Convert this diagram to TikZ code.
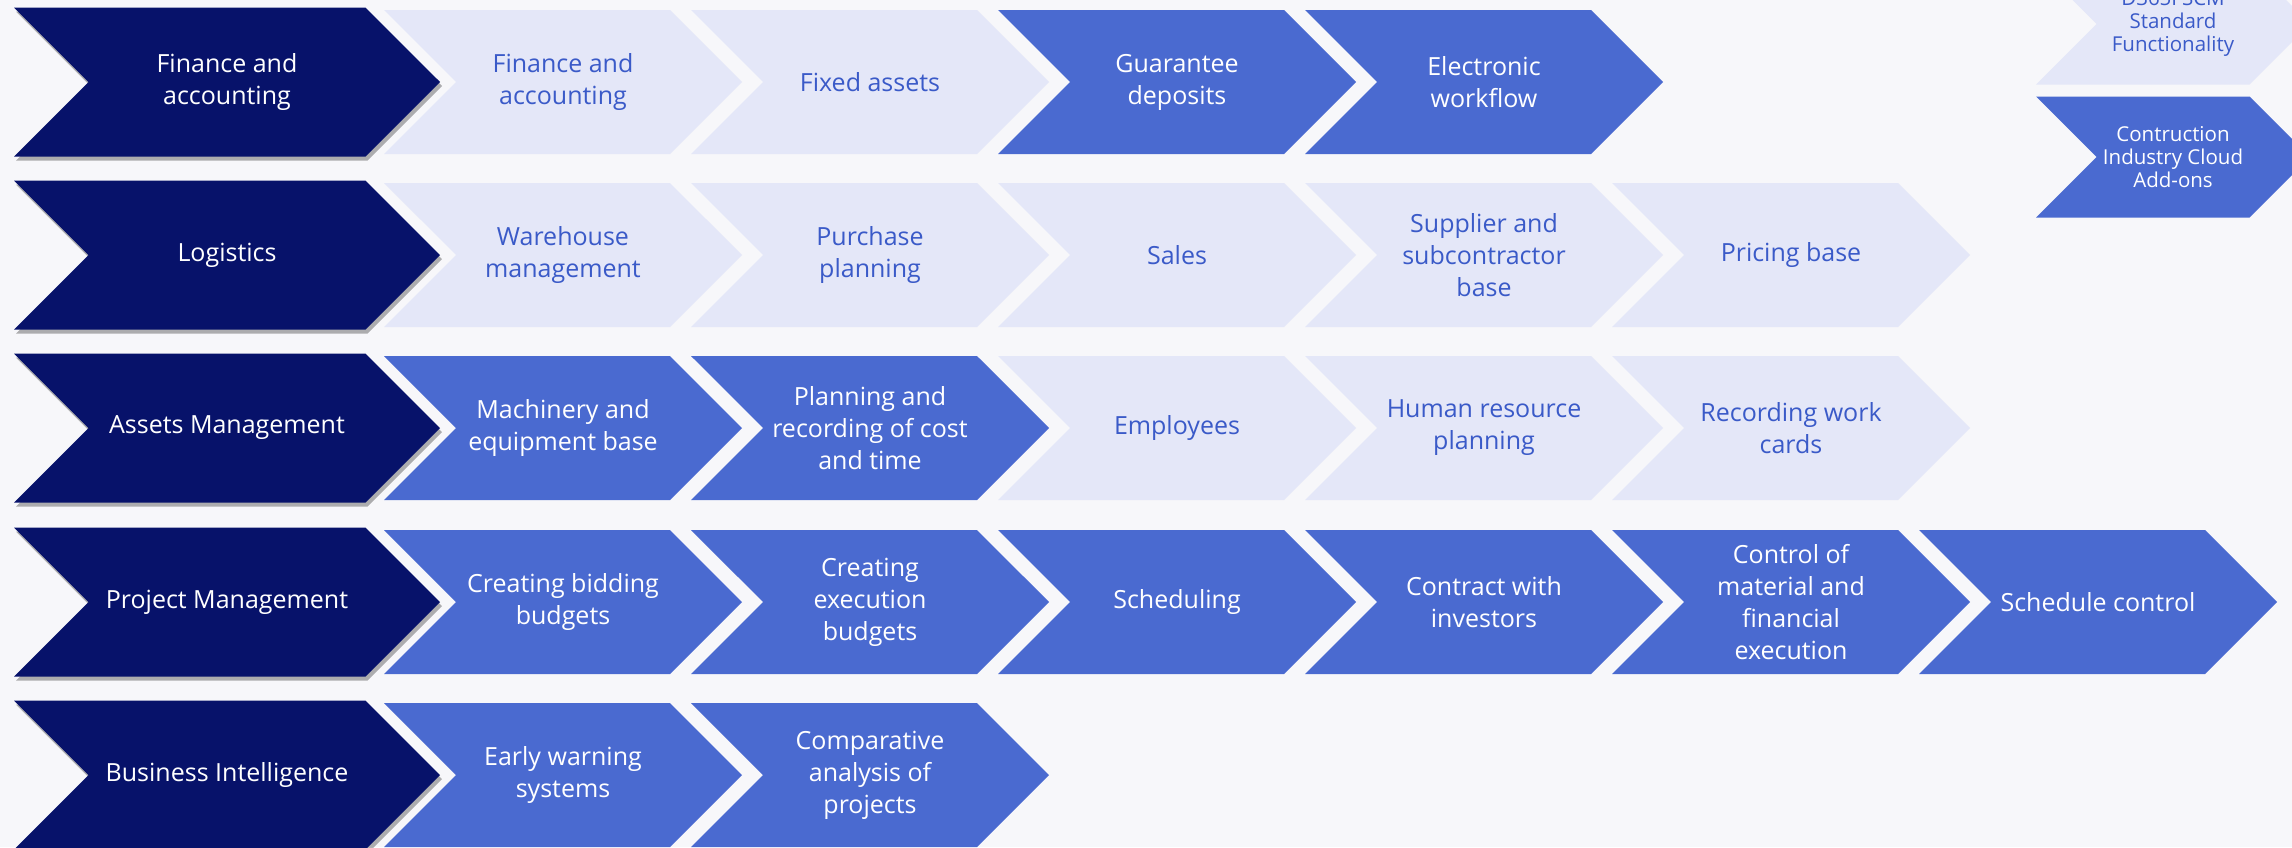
\documentclass[tikz,border=0pt]{standalone}
\usepackage{fontspec}
\setmainfont{Open Sans}
\usetikzlibrary{shapes.symbols,shadows}

\definecolor{navyHead}{HTML}{07126A}
\definecolor{midBlue}{HTML}{4A6AD0}
\definecolor{paleBlue}{HTML}{E4E7F8}
\definecolor{textBlue}{HTML}{3A5AC8}
\definecolor{pageGrey}{HTML}{F7F7FA}

\begin{document}
\begin{tikzpicture}[x=1pt, y=-1pt]
        \tikzstyle{chevron} = [signal, signal from=west, signal to=east,
                signal pointer angle=90, inner sep=2pt, align=center,
                font=\fontsize{25}{32}\selectfont]
        \tikzstyle{headStep} = [chevron, fill=navyHead, text=white,
                minimum width=426, minimum height=149,
                drop shadow={shadow xshift=2pt, shadow yshift=-4pt,
                        opacity=0.3, fill=black}]
        \tikzstyle{paleStep} = [chevron, fill=paleBlue, text=textBlue,
                minimum width=358, minimum height=144]
        \tikzstyle{blueStep} = [chevron, fill=midBlue, text=white,
                minimum width=358, minimum height=144]
        \tikzstyle{keyStep} = [chevron, minimum width=274, minimum height=121,
                font=\fontsize{20.5}{23}\selectfont]
        \useasboundingbox (0,0) rectangle (2292,847);
        \fill[pageGrey] (0,0) rectangle (2292,847);
        \clip (0,0) rectangle (2292,847);
        % legend
        \node[keyStep, fill=paleBlue, text=textBlue] (std) at (2173,24)
                {D365FSCM\\Standard\\Functionality};
        \node[keyStep, fill=midBlue, text=white] (addon) at (2173,157)
                {Contruction\\Industry Cloud\\Add-ons};
        % row 1
        \node[headStep] (fa) at (227,82) {Finance and\\accounting};
        \node[paleStep] (fa1) at (563,82) {Finance and\\accounting};
        \node[paleStep] (fa2) at (870,82) {Fixed assets};
        \node[blueStep] (fa3) at (1177,82) {Guarantee\\deposits};
        \node[blueStep] (fa4) at (1484,82) {Electronic\\workflow};
        % row 2
        \node[headStep] (lg) at (227,255) {Logistics};
        \node[paleStep] (lg1) at (563,255) {Warehouse\\management};
        \node[paleStep] (lg2) at (870,255) {Purchase\\planning};
        \node[paleStep] (lg3) at (1177,255) {Sales};
        \node[paleStep] (lg4) at (1484,255) {Supplier and\\subcontractor\\base};
        \node[paleStep] (lg5) at (1791,255) {Pricing base};
        % row 3
        \node[headStep] (am) at (227,428) {Assets Management};
        \node[blueStep] (am1) at (563,428) {Machinery and\\equipment base};
        \node[blueStep] (am2) at (870,428) {Planning and\\recording of cost\\and time};
        \node[paleStep] (am3) at (1177,428) {Employees};
        \node[paleStep] (am4) at (1484,428) {Human resource\\planning};
        \node[paleStep] (am5) at (1791,428) {Recording work\\cards};
        % row 4
        \node[headStep] (pm) at (227,602) {Project Management};
        \node[blueStep] (pm1) at (563,602) {Creating bidding\\budgets};
        \node[blueStep] (pm2) at (870,602) {Creating\\execution\\budgets};
        \node[blueStep] (pm3) at (1177,602) {Scheduling};
        \node[blueStep] (pm4) at (1484,602) {Contract with\\investors};
        \node[blueStep] (pm5) at (1791,602) {Control of\\material and\\financial\\execution};
        \node[blueStep] (pm6) at (2098,602) {Schedule control};
        % row 5
        \node[headStep] (bi) at (227,775) {Business Intelligence};
        \node[blueStep] (bi1) at (563,775) {Early warning\\systems};
        \node[blueStep] (bi2) at (870,775) {Comparative\\analysis of\\projects};
    \end{tikzpicture}
\end{document}
